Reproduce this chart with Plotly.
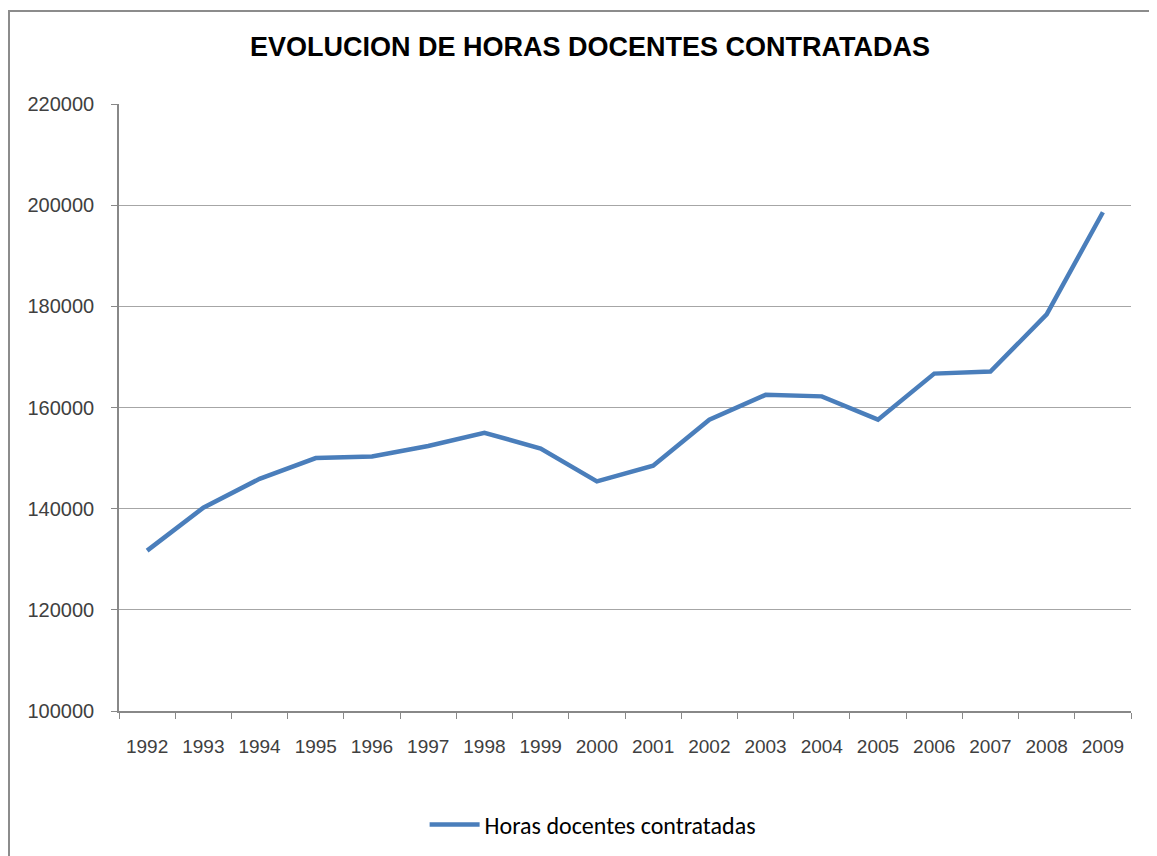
import plotly.graph_objects as go

# Años y horas docentes contratadas
YEARS = [str(y) for y in range(1992, 2010)]
HORAS = [
    131700, 140200, 145900, 150000, 150300, 152400, 155000, 151900, 145400,
    148500, 157600, 162500, 162200, 157600, 166700, 167100, 178400, 198600,
]

TITLE = "EVOLUCION DE HORAS DOCENTES CONTRATADAS"
SERIES_NAME = "Horas docentes contratadas"

fig = go.Figure()

fig.add_trace(
    go.Scatter(
        x=YEARS,
        y=HORAS,
        mode="lines",
        name=SERIES_NAME,
        line=dict(color="#4A7EBB", width=4.5),
        showlegend=True,
    )
)

# marco exterior del gráfico (estilo Excel)
fig.add_shape(
    type="rect",
    xref="paper",
    yref="paper",
    x0=-0.1087,
    x1=1.05,
    y0=-0.3,
    y1=1.1532,
    line=dict(color="#8c8c8c", width=2),
    layer="below",
)

# la página tiene 8px de margen en body, por eso el lienzo es algo menor
fig.update_layout(
    width=1141,
    height=848,
    margin={"l": 111, "r": 18, "t": 96, "b": 145},
    paper_bgcolor="white",
    plot_bgcolor="white",
    font=dict(family="Liberation Sans, Arial", size=19, color="#404040"),
    title=dict(
        text="<b>" + TITLE + "</b>",
        x=0.51,
        xanchor="center",
        y=1 - 39 / 848,
        yanchor="middle",
        font=dict(family="Liberation Sans, Arial", size=27, color="black"),
    ),
    legend=dict(
        orientation="h",
        x=0.468,
        xanchor="center",
        yref="container",
        y=1 - 817 / 848,
        yanchor="middle",
        font=dict(family="Carlito, Open Sans, Liberation Sans", size=24, color="black"),
        itemwidth=50,
    ),
    xaxis=dict(
        type="category",
        tickson="boundaries",
        range=[-0.5, len(YEARS) - 0.5],
        ticks="outside",
        ticklen=6,
        tickcolor="#888888",
        showline=True,
        linecolor="#888888",
        linewidth=1.5,
        showgrid=False,
        ticklabelstandoff=17,
    ),
    yaxis=dict(
        range=[100000, 220000],
        dtick=20000,
        ticks="outside",
        ticklen=6,
        tickcolor="#888888",
        showline=True,
        linecolor="#888888",
        linewidth=1.5,
        showgrid=True,
        gridcolor="#a6a6a6",
        gridwidth=1.2,
        zeroline=False,
        tickformat="d",
        ticklabelstandoff=13,
        tickfont=dict(size=20),
    ),
)

fig.write_html("out.html")
